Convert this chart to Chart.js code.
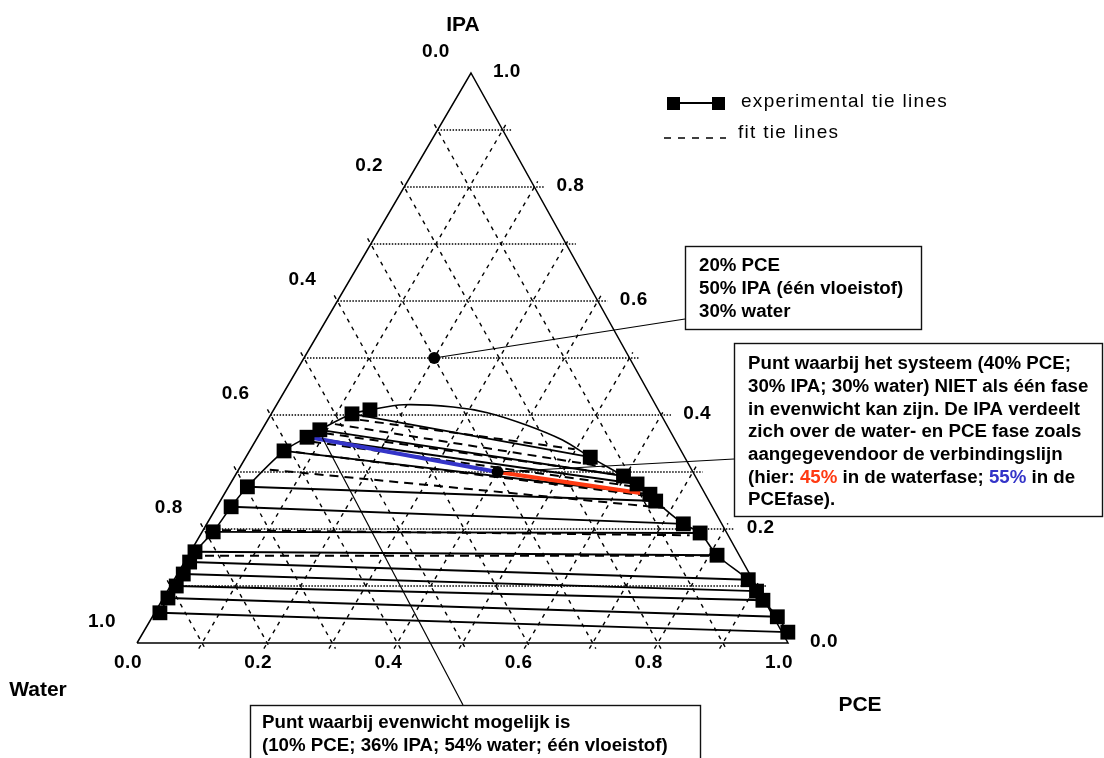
<!DOCTYPE html>
<html>
<head>
<meta charset="utf-8">
<script src="https://cdn.jsdelivr.net/npm/chart.js@4.4.1/dist/chart.umd.min.js"></script>
<style>
  html, body { margin: 0; padding: 0; background: #fff; }
  #wrap { position: relative; width: 1104px; height: 758px; }
</style>
</head>
<body>
<div id="wrap"><canvas id="ternary" width="1104" height="758"></canvas></div>
<script>
// Compositions are mass fractions of PCE and IPA; water = 1 - PCE - IPA.

const gridLevels = [0.1, 0.2, 0.3, 0.4, 0.5, 0.6, 0.7, 0.8, 0.9];
const tickValues = [0.0, 0.2, 0.4, 0.6, 0.8, 1.0];
const tickLabels = ['0.0', '0.2', '0.4', '0.6', '0.8', '1.0'];

// Water-rich phase (left branch of the binodal), bottom to top
const waterPhasePCE = [0.008, 0.007, 0.009, 0.009, 0.008, 0.007, 0.017, 0.022, 0.029, 0.053, 0.076, 0.089, 0.124, 0.148];
const waterPhaseIPA = [0.053, 0.079, 0.100, 0.121, 0.142, 0.160, 0.195, 0.239, 0.274, 0.337, 0.361, 0.374, 0.402, 0.409];

// PCE-rich phase (right branch of the binodal), top to bottom
const pcePhasePCE = [0.529, 0.597, 0.625, 0.654, 0.669, 0.732, 0.766, 0.812, 0.882, 0.905, 0.923, 0.960, 0.990];
const pcePhaseIPA = [0.326, 0.293, 0.279, 0.261, 0.249, 0.209, 0.193, 0.154, 0.111, 0.091, 0.075, 0.046, 0.019];

// Top of the binodal near the plait point
const plaitArcPCE = [0.195, 0.273, 0.331, 0.403, 0.471];
const plaitArcIPA = [0.418, 0.414, 0.404, 0.382, 0.356];

// Experimental tie lines: index into water phase, index into PCE phase
const expTieWater = [12, 11, 10, 9, 8, 7, 6, 5, 4, 3, 2, 1, 0];
const expTiePCE   = [0, 1, 2, 3, 4, 5, 6, 7, 8, 9, 10, 11, 12];

// Fitted tie lines (end compositions)
const fitWaterPCE = [0.117, 0.107, 0.100, 0.088, 0.072, 0.048, 0.029, 0.026];
const fitWaterIPA = [0.395, 0.384, 0.368, 0.353, 0.335, 0.304, 0.198, 0.153];
const fitPcePCE   = [0.498, 0.560, 0.582, 0.619, 0.653, 0.689, 0.752, 0.805];
const fitPceIPA   = [0.340, 0.309, 0.296, 0.275, 0.258, 0.237, 0.189, 0.153];

// Mixtures: single-liquid point and two-phase point
const mixPCE = [0.20, 0.40];
const mixIPA = [0.50, 0.30];

// Tie line through the two-phase mixture: water-phase end, PCE-phase end
const tieEndPCE = [0.075, 0.638];
const tieEndIPA = [0.362, 0.263];

// Equilibrium composition on the water-rich side
const eqPCE = 0.10;
const eqIPA = 0.36;

// Horizontal position of the IPA apex along the base
const APEX = 0.513;
const tern = (pce, ipa) => ({ x: pce + APEX * ipa, y: ipa });

const BLUE = '#3434c8';
const RED = '#ff3a12';

const datasets = [];
function addLine(points, opts) {
  datasets.push(Object.assign({
    data: points, showLine: true, pointRadius: 0, borderColor: '#000',
    borderWidth: 1.2, fill: false, clip: false, tension: 0, order: 5
  }, opts));
}

// Grid: constant IPA (dotted), constant water and constant PCE (dashed)
const ext = 0.01;
gridLevels.forEach(v => {
  addLine([tern(0, v), tern(1 - v + 0.015, v)], { borderDash: [1.5, 1.5], borderWidth: 1.4, borderColor: '#000', order: 10 });
  addLine([tern(-ext, 1 - v + ext), tern(1 - v + ext, -ext)], { borderDash: [4, 5], borderWidth: 1.4, borderColor: '#000', order: 10 });
  addLine([tern(v, -ext), tern(v, 1 - v + ext)], { borderDash: [4, 5], borderWidth: 1.4, borderColor: '#000', order: 10 });
});

// Triangle edges
addLine([tern(0, 0), tern(1, 0), tern(0, 1), tern(0, 0)], { borderWidth: 1.5, order: 9 });

// Binodal through both phases and over the plait point
const binodal = [];
waterPhasePCE.forEach((p, i) => binodal.push(tern(p, waterPhaseIPA[i])));
plaitArcPCE.forEach((p, i) => binodal.push(tern(p, plaitArcIPA[i])));
pcePhasePCE.forEach((p, i) => binodal.push(tern(p, pcePhaseIPA[i])));
addLine(binodal, { borderWidth: 1.6, tension: 0.3, order: 6 });

// Experimental tie lines
expTieWater.forEach((wi, k) => {
  const pi = expTiePCE[k];
  addLine([tern(waterPhasePCE[wi], waterPhaseIPA[wi]), tern(pcePhasePCE[pi], pcePhaseIPA[pi])], { borderWidth: 1.9, order: 5 });
});

// Fitted tie lines
fitWaterPCE.forEach((p, i) => {
  addLine([tern(p, fitWaterIPA[i]), tern(fitPcePCE[i], fitPceIPA[i])], { borderDash: [9, 6], borderWidth: 2, order: 5 });
});

// Tie line through the two-phase mixture, split at the mixture point
addLine([tern(tieEndPCE[0], tieEndIPA[0]), tern(mixPCE[1], mixIPA[1])], { borderColor: BLUE, borderWidth: 4, order: 3 });
addLine([tern(mixPCE[1], mixIPA[1]), tern(tieEndPCE[1], tieEndIPA[1])], { borderColor: RED, borderWidth: 4, order: 3 });

// Experimental phase compositions
datasets.push({
  data: waterPhasePCE.map((p, i) => tern(p, waterPhaseIPA[i])).concat(pcePhasePCE.map((p, i) => tern(p, pcePhaseIPA[i]))),
  showLine: false, pointStyle: 'rect', pointRadius: 10.5, backgroundColor: '#000',
  borderColor: '#000', borderWidth: 0, clip: false, order: 2
});

// Mixture points
datasets.push({
  data: mixPCE.map((p, i) => tern(p, mixIPA[i])),
  showLine: false, pointStyle: 'circle', pointRadius: 6, backgroundColor: '#000',
  borderColor: '#000', borderWidth: 0, clip: false, order: 1
});

const BOLD = "bold 18.7px 'Liberation Sans', Arial, sans-serif";

const annotations = {
  id: 'annotations',
  afterDatasetsDraw(chart) {
    const ctx = chart.ctx;
    const xs = chart.scales.x, ys = chart.scales.y;
    const px = (pce, ipa) => [xs.getPixelForValue(pce + APEX * ipa), ys.getPixelForValue(ipa)];
    ctx.save();

    // Axis tick labels
    ctx.fillStyle = '#000';
    ctx.font = "bold 19px 'Liberation Sans', Arial, sans-serif";
    ctx.letterSpacing = '0.5px';
    ctx.textAlign = 'center';
    ctx.textBaseline = 'middle';
    tickValues.forEach((v, i) => {
      // water fraction along the left edge
      let [x, y] = px(0, 1 - v);
      ctx.fillText(tickLabels[i], x - 35, y - 21);
      // IPA fraction along the right edge
      [x, y] = px(1 - v, v);
      ctx.fillText(tickLabels[i], x + 36, y - 1);
      // PCE fraction along the base
      [x, y] = px(v, 0);
      ctx.fillText(tickLabels[i], x - 9, y + 20);
    });

    // Axis titles at the vertices
    ctx.font = "bold 21px 'Liberation Sans', Arial, sans-serif";
    ctx.letterSpacing = '0px';
    let [ax, ay] = px(0, 1);
    ctx.fillText('IPA', ax - 8, ay - 48);
    [ax, ay] = px(0, 0);
    ctx.fillText('Water', ax - 99, ay + 47);
    [ax, ay] = px(1, 0);
    ctx.fillText('PCE', ax + 72, ay + 62);

    // Legend
    ctx.strokeStyle = '#000';
    ctx.fillStyle = '#000';
    ctx.lineWidth = 2;
    ctx.beginPath(); ctx.moveTo(673, 103); ctx.lineTo(718, 103); ctx.stroke();
    ctx.fillRect(667, 97, 13, 13);
    ctx.fillRect(712, 97, 13, 13);
    ctx.lineWidth = 1.5;
    ctx.setLineDash([7, 7]);
    ctx.beginPath(); ctx.moveTo(664, 138); ctx.lineTo(726, 138); ctx.stroke();
    ctx.setLineDash([]);
    ctx.font = "19px 'Liberation Sans', Arial, sans-serif";
    ctx.letterSpacing = '1.3px';
    ctx.textAlign = 'left';
    ctx.fillText('experimental tie lines', 741, 102);
    ctx.fillText('fit tie lines', 738, 133);
    ctx.letterSpacing = '0px';

    // Callout leaders
    ctx.lineWidth = 1.2;
    ctx.strokeStyle = '#000';
    const leader = (x1, y1, x2, y2) => { ctx.beginPath(); ctx.moveTo(x1, y1); ctx.lineTo(x2, y2); ctx.stroke(); };
    let [mx, my] = px(mixPCE[0], mixIPA[0]);
    leader(mx, my, 685, 319);
    [mx, my] = px(mixPCE[1], mixIPA[1]);
    leader(mx, my, 734, 459);
    [mx, my] = px(eqPCE, eqIPA);
    leader(mx, my, 463, 705);

    // Callout boxes
    const box = (x, y, w, h) => {
      ctx.fillStyle = '#fff';
      ctx.fillRect(x, y, w, h);
      ctx.lineWidth = 1.4;
      ctx.strokeStyle = '#111';
      ctx.strokeRect(x + 0.5, y + 0.5, w, h);
    };
    const pct = v => Math.round(v * 100) + '%';
    const water = (p, i) => 1 - p - i;

    ctx.font = BOLD;
    ctx.textBaseline = 'middle';
    ctx.textAlign = 'left';

    box(685, 246, 236, 83);
    ctx.fillStyle = '#000';
    ctx.fillText(pct(mixPCE[0]) + ' PCE', 699, 266);
    ctx.fillText(pct(mixIPA[0]) + ' IPA (één vloeistof)', 699, 289);
    ctx.fillText(pct(water(mixPCE[0], mixIPA[0])) + ' water', 699, 312);

    box(734, 343, 368, 173);
    ctx.fillStyle = '#000';
    const lines2 = [
      'Punt waarbij het systeem (' + pct(mixPCE[1]) + ' PCE;',
      pct(mixIPA[1]) + ' IPA; ' + pct(water(mixPCE[1], mixIPA[1])) + ' water) NIET als één fase',
      'in evenwicht kan zijn. De IPA verdeelt',
      'zich over de water- en PCE fase zoals',
      'aangegevendoor de verbindingslijn'
    ];
    lines2.forEach((t, i) => ctx.fillText(t, 748, 364 + i * 22.7));
    const rich = [['(hier: ', '#000'], ['45%', RED], [' in de waterfase; ', '#000'], ['55%', BLUE], [' in de', '#000']];
    let tx = 748;
    rich.forEach(([t, c]) => { ctx.fillStyle = c; ctx.fillText(t, tx, 364 + 5 * 22.7); tx += ctx.measureText(t).width; });
    ctx.fillStyle = '#000';
    ctx.fillText('PCEfase).', 748, 364 + 6 * 22.7);

    box(250, 705, 450, 70);
    ctx.fillStyle = '#000';
    ctx.fillText('Punt waarbij evenwicht mogelijk is', 262, 723);
    ctx.fillText('(' + pct(eqPCE) + ' PCE; ' + pct(eqIPA) + ' IPA; ' + pct(water(eqPCE, eqIPA)) + ' water; één vloeistof)', 262, 746);

    ctx.restore();
  }
};

new Chart(document.getElementById('ternary'), {
  type: 'scatter',
  data: { datasets },
  options: {
    responsive: false,
    animation: false,
    devicePixelRatio: 1,
    events: [],
    layout: { padding: { left: 137, right: 316, top: 73, bottom: 115 } },
    scales: {
      x: { type: 'linear', min: 0, max: 1, display: false },
      y: { type: 'linear', min: 0, max: 1, display: false }
    },
    plugins: { legend: { display: false }, tooltip: { enabled: false } }
  },
  plugins: [annotations]
});
</script>
</body>
</html>
